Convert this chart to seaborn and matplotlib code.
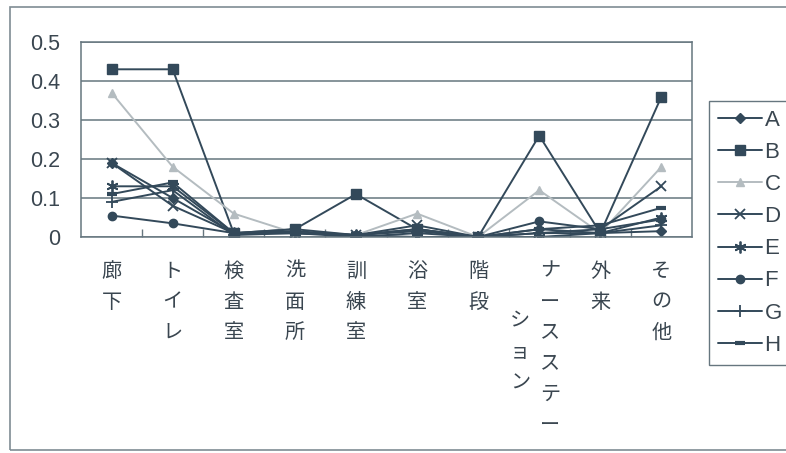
import matplotlib
matplotlib.use("Agg")
import matplotlib.pyplot as plt
from matplotlib.patches import Rectangle
from matplotlib.ticker import FixedLocator
import numpy as np
import pandas as pd
import seaborn as sns

# Locations (x categories)
categories = ["廊下", "トイレ", "検査室", "洗面所", "訓練室", "浴室", "階段",
              "ナースステーション", "外来", "その他"]

# Share of incidents per location for each facility
A = [0.19, 0.10, 0.01, 0.01, 0.005, 0.02, 0.0, 0.02, 0.01, 0.015]
B = [0.43, 0.43, 0.01, 0.02, 0.11, 0.02, 0.0, 0.26, 0.01, 0.36]
C = [0.37, 0.18, 0.06, 0.01, 0.005, 0.06, 0.0, 0.12, 0.01, 0.18]
D = [0.19, 0.08, 0.01, 0.01, 0.005, 0.03, 0.0, 0.01, 0.02, 0.13]
E = [0.13, 0.13, 0.01, 0.01, 0.005, 0.0, 0.0, 0.0, 0.01, 0.05]
F = [0.055, 0.035, 0.01, 0.015, 0.005, 0.02, 0.0, 0.04, 0.02, 0.045]
G = [0.09, 0.12, 0.005, 0.01, 0.0, 0.01, 0.0, 0.01, 0.01, 0.03]
H = [0.11, 0.14, 0.01, 0.02, 0.005, 0.015, 0.0, 0.02, 0.03, 0.075]

series = {"A": A, "B": B, "C": C, "D": D, "E": E, "F": F, "G": G, "H": H}

sns.set_theme(style="white")
plt.rcParams["font.family"] = ["Noto Sans CJK JP", "DejaVu Sans"]

dark = "#33495a"
light = "#b4bcc0"
text_col = "#3a4650"
frame_col = "#66767f"
markers = {"A": "D", "B": "s", "C": "^", "D": "x", "E": (6, 2, 0),
           "F": "o", "G": "+", "H": "_"}
msize = {"A": 5, "B": 6.5, "C": 6, "D": 7, "E": 8.5, "F": 6, "G": 8, "H": 7}
mew = {"A": 1, "B": 1, "C": 1, "D": 1.3, "E": 1.3, "F": 1, "G": 1.3, "H": 3}

fig = plt.figure(figsize=(7.86, 4.53), dpi=100)
ax = fig.add_axes([81 / 786, 1 - 237 / 453, 611 / 786, 195 / 453])

for name, vals in series.items():
    d = pd.DataFrame({"pos": np.arange(len(categories)), "value": vals})
    col = light if name == "C" else dark
    sns.lineplot(data=d, x="pos", y="value", color=col, marker=markers[name],
                 markersize=msize[name], markeredgewidth=mew[name],
                 markeredgecolor=col, markerfacecolor=col,
                 linewidth=1.4, ax=ax, label=name)

ax.set_xlim(-0.5, len(categories) - 0.5)
ax.set_ylim(0, 0.5)
ax.set_yticks(np.arange(0, 0.51, 0.1))
ax.set_yticklabels(["0", "0.1", "0.2", "0.3", "0.4", "0.5"],
                   fontsize=15.5, color=text_col,
                   family=["Liberation Sans", "DejaVu Sans"])
ax.tick_params(axis="y", length=0, pad=15)
ax.yaxis.grid(True, color=frame_col, linewidth=1.1)
ax.set_axisbelow(True)

ax.set_xticks(range(len(categories)))
ax.set_xticklabels([])
ax.xaxis.set_minor_locator(FixedLocator(np.arange(0.5, len(categories) - 1, 1)))
ax.tick_params(axis="x", which="major", length=0)
ax.tick_params(axis="x", which="minor", direction="in", length=6,
               color=frame_col, width=1.0, bottom=True)
ax.set_xlabel("")
ax.set_ylabel("")

for s in ax.spines.values():
    s.set_color(frame_col)
    s.set_linewidth(1.1)

# vertical category labels
label_kw = dict(xycoords=("data", "axes fraction"), textcoords="offset points",
                ha="center", va="top", fontsize=14.5, color=text_col,
                linespacing=1.62, annotation_clip=False)
for i, cat in enumerate(categories):
    if cat == "ナースステーション":
        ax.annotate("\n".join("ナースステー"), xy=(i, 0), xytext=(8, -17), **label_kw)
        ax.annotate("\n".join("ション"), xy=(i, 0), xytext=(-14, -53), **label_kw)
    else:
        ax.annotate("\n".join(cat), xy=(i, 0), xytext=(0, -17), **label_kw)

# legend
handles, labels = ax.get_legend_handles_labels()
leg = ax.legend(handles, labels, loc="upper left",
                bbox_to_anchor=(709 / 786, 1 - 101 / 453), bbox_transform=fig.transFigure,
                frameon=True, fancybox=False, edgecolor=frame_col, framealpha=1,
                handlelength=2.0, handletextpad=0.1, labelspacing=0.5,
                borderpad=0.4, borderaxespad=0,
                prop={"family": ["Liberation Sans", "DejaVu Sans"], "size": 16})
for t in leg.get_texts():
    t.set_color(text_col)

# outer chart frame
fig.patches.append(Rectangle((10 / 786, 1 - 450 / 453), 790 / 786, 443 / 453,
                             transform=fig.transFigure, fill=False,
                             edgecolor="#7f8c94", linewidth=1.2, clip_on=False))

fig.savefig("out.png", dpi=100)
